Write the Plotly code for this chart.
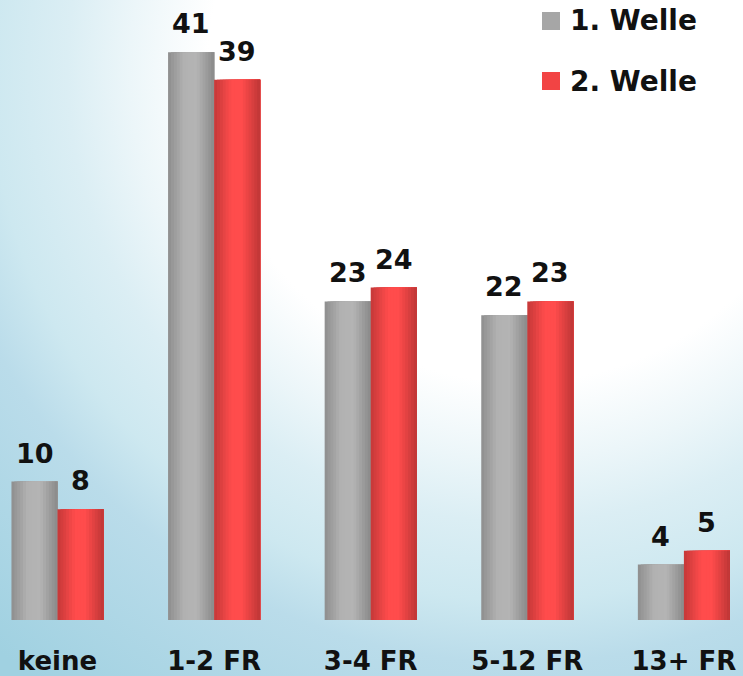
import plotly.graph_objects as go

# ---------------- data ----------------
categories = ["keine", "1-2 FR", "3-4 FR", "5-12 FR", "13+ FR"]
welle1 = [10, 41, 23, 22, 4]
welle2 = [8, 39, 24, 23, 5]
series_names = ["1. Welle", "2. Welle"]

# ---------------- style ----------------
W, H = 743, 676
BAR_W = 0.294          # width of one bar in category units
N_STRIPES = 16         # stripes used to imitate the cylindrical shading
FONT = "DejaVu Sans"

gray_profile = [(0.0, (142, 142, 142)), (0.35, (178, 178, 178)),
                (0.62, (180, 180, 180)), (1.0, (138, 138, 138))]
red_profile = [(0.0, (196, 56, 56)), (0.38, (255, 76, 76)),
               (0.60, (255, 76, 76)), (1.0, (190, 54, 54))]


def shade(profile, t):
    for (t0, c0), (t1, c1) in zip(profile[:-1], profile[1:]):
        if t0 <= t <= t1:
            f = (t - t0) / (t1 - t0) if t1 > t0 else 0
            c = [round(a + (b - a) * f) for a, b in zip(c0, c1)]
            return "rgb(%d,%d,%d)" % tuple(c)
    c = profile[-1][1]
    return "rgb(%d,%d,%d)" % c


fig = go.Figure()

# ---------------- background (radial gradient) ----------------
cx, cy, hs = 520, 70, 780
fig.add_trace(go.Scatter(
    x=[cx - hs, cx + hs, cx + hs, cx - hs, cx - hs],
    y=[cy - hs, cy - hs, cy + hs, cy + hs, cy - hs],
    mode="lines", line=dict(width=0), fill="toself",
    fillgradient=dict(type="radial",
                      colorscale=[[0, "#ffffff"], [0.40, "#ffffff"],
                                  [0.50, "#ecf6f9"], [0.58, "#dbeef4"],
                                  [0.68, "#cde8f0"], [0.76, "#badcea"],
                                  [1, "#a0d1e1"]]),
    hoverinfo="skip", showlegend=False, xaxis="x", yaxis="y"))

# ---------------- bars (striped for shading) ----------------
series = [(welle1, gray_profile, -BAR_W), (welle2, red_profile, 0.0)]
step = BAR_W / N_STRIPES
for vals, prof, off in series:
    for i in range(N_STRIPES):
        t = (i + 0.5) / N_STRIPES
        fig.add_trace(go.Bar(
            x=categories, y=vals,
            offset=off + i * step, width=(N_STRIPES - i) * step,
            marker=dict(color=shade(prof, t), line=dict(width=0)),
            showlegend=False, hoverinfo="skip",
            xaxis="x2", yaxis="y2"))

# ---------------- value labels ----------------
annotations = []
for vals, shift in [(welle1, -23), (welle2, 23)]:
    for c, v in zip(categories, vals):
        annotations.append(dict(
            x=c, y=v, xref="x2", yref="y2", text="<b>%d</b>" % v,
            showarrow=False, xanchor="center", yanchor="bottom",
            xshift=shift, yshift=11,
            font=dict(family=FONT, size=27, color="#111111")))

# ---------------- legend ----------------
shapes = []
legend_y = [21, 81]
swatch_colors = ["#a6a6a6", "#f24444"]
for name, py, col in zip(series_names, legend_y, swatch_colors):
    shapes.append(dict(type="rect", xref="paper", yref="paper",
                       x0=542 / W, x1=560 / W,
                       y0=1 - (py + 9) / H, y1=1 - (py - 9) / H,
                       fillcolor=col, line=dict(width=0), layer="above"))
    annotations.append(dict(
        x=568 / W, y=1 - py / H, xref="paper", yref="paper",
        text="<b>%s</b>" % name, showarrow=False,
        xanchor="left", yanchor="middle",
        font=dict(family=FONT, size=28, color="#111111")))

px_per_unit = 13.85
bottom_px = 620
fig.update_layout(
    width=W, height=H,
    margin=dict(l=0, r=0, t=0, b=0),
    paper_bgcolor="#ffffff", plot_bgcolor="rgba(0,0,0,0)",
    barmode="overlay", showlegend=False,
    xaxis=dict(range=[0, W], domain=[0, 1], visible=False, fixedrange=True),
    yaxis=dict(range=[H, 0], domain=[0, 1], visible=False, fixedrange=True),
    xaxis2=dict(anchor="y2", domain=[0, 1], type="category",
                range=[-57.5 / 156.6, -57.5 / 156.6 + W / 156.6],
                showgrid=False, showline=False, zeroline=False,
                ticks="outside", ticklen=18, tickcolor="rgba(0,0,0,0)",
                tickfont=dict(family=FONT, size=26, color="#111111"),
                tickprefix="<b>", ticksuffix="</b>", automargin=False),
    yaxis2=dict(anchor="x2", domain=[(H - bottom_px) / H, 1],
                range=[0, bottom_px / px_per_unit],
                visible=False, automargin=False),
    annotations=annotations, shapes=shapes,
)

fig.write_html("out.html",
               config={"displayModeBar": False},
               post_script="document.body.style.margin='0px';"
                           "document.body.style.overflow='hidden';")
